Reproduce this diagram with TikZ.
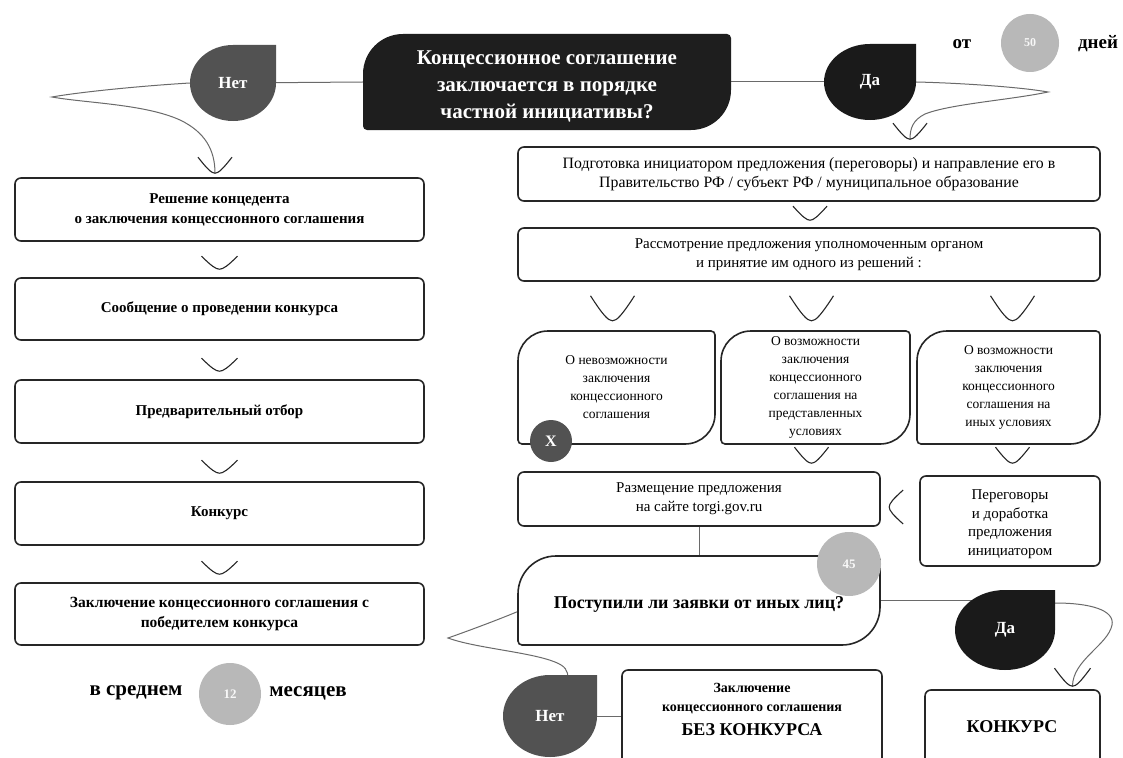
\documentclass[tikz,border=0pt]{standalone}
\usepackage{fontspec}
\setmainfont{Liberation Serif}
\usetikzlibrary{calc}
\pgfdeclarelayer{bg}
\pgfsetlayers{bg,main}
\definecolor{ink}{HTML}{1E1E1E}
\definecolor{dablack}{HTML}{1A1A1A}
\definecolor{netgray}{HTML}{525252}
\definecolor{lgray}{HTML}{B8B8B8}
\definecolor{connc}{HTML}{6A6A6A}
\definecolor{edgec}{HTML}{262626}
\newcommand\dropshape[5]{\fill[#5] (#1+#3,#2) -- (#1+#3,#2-#4) -- (#1,#2-#4) arc[start angle=270,end angle=0,x radius=#3,y radius=#4] -- cycle;}
\newcommand\leafshape[6]{\path[#6] (#1,#2+#5) arc[start angle=180,end angle=270,radius=#5] -- (#3-4,#2) arc[start angle=270,end angle=360,radius=4] -- (#3,#4-#5) arc[start angle=0,end angle=90,radius=#5] -- (#1+4,#4) arc[start angle=90,end angle=180,radius=4] -- cycle;}
\tikzset{
  chevline/.style={draw=edgec, line width=1.1pt},
  chev/.pic={\draw[chevline] (-1,-1) .. controls (-0.45,-0.25) and (-0.2,0) .. (0,0) .. controls (0.2,0) and (0.45,-0.25) .. (1,-1);},
  connline/.style={draw=connc, line width=1pt},
  box/.style={draw=edgec, line width=1.6pt, rounded corners=6pt, fill=white, inner sep=0pt, align=center},
  leafline/.style={draw=edgec, line width=1.6pt, fill=white},
  txt/.style={inner sep=0pt, align=center},
  lcol/.style={font=\fontsize{15}{20}\selectfont\bfseries},
  rcol/.style={font=\fontsize{15}{19}\selectfont},
  leaftxt/.style={txt, font=\fontsize{13.5}{18}\selectfont},
  droptxt/.style={txt, text=white, font=\fontsize{17}{20}\selectfont\bfseries},
  bigtxt/.style={txt, font=\fontsize{19}{22}\selectfont\bfseries},
  numcirc/.style={circle, fill=lgray, inner sep=0pt, text=white!90!lgray, font=\fontsize{12}{14}\selectfont\bfseries},
}
\begin{document}
\begin{tikzpicture}[x=1pt,y=-1pt]
\useasboundingbox (0,0) rectangle (1123,757);
\clip (0,0) rectangle (1123,757);

% ---------- top question ----------
\leafshape{363}{34}{731}{130}{40}{fill=ink}
\node[txt, minimum width=368, minimum height=96] (q) at (547,82) {};
\node[txt, text=white, font=\fontsize{21}{27}\selectfont\bfseries] (qtxt) at (547,86) {Концессионное соглашение\\заключается в порядке\\частной инициативы?};

\dropshape{233}{83}{43}{38}{netgray}
\node[droptxt, minimum width=86, minimum height=76] (neta) at (233,83) {Нет};
\dropshape{870}{82}{46}{38}{dablack}
\node[droptxt, minimum width=92, minimum height=76] (daa) at (870,82) {Да};

\node[bigtxt] (ot) at (962,44) {от};
\node[numcirc, minimum size=58] (c50) at (1030,43) {50};
\node[bigtxt] (dney) at (1098,44) {дней};

% ---------- left column ----------
\node[box, lcol, minimum width=409, minimum height=63] (b1) at (219.5,209.5) {Решение концедента\\о заключения концессионного соглашения};
\node[box, lcol, minimum width=409, minimum height=62] (b2) at (219.5,309) {Сообщение о проведении конкурса};
\node[box, lcol, minimum width=409, minimum height=63] (b3) at (219.5,411.5) {Предварительный отбор};
\node[box, lcol, minimum width=409, minimum height=63] (b4) at (219.5,513.5) {Конкурс};
\node[box, lcol, minimum width=409, minimum height=62, font=\fontsize{15.5}{20}\selectfont\bfseries] (b5) at (219.5,614) {Заключение концессионного соглашения с\\победителем конкурса};

\coordinate (chA) at ($(b1.north)+(-4.5,-4)$);
\pic[xscale=17,yscale=16] at (chA) {chev};
\pic[xscale=18,yscale=13] at ($(b2.north)+(0,-8)$) {chev};
\pic[xscale=18,yscale=13] at ($(b3.north)+(0,-8)$) {chev};
\pic[xscale=18,yscale=13] at ($(b4.north)+(0,-8)$) {chev};
\pic[xscale=18,yscale=13] at ($(b5.north)+(0,-8)$) {chev};

\node[bigtxt, font=\fontsize{21}{24}\selectfont\bfseries] (sred) at (136,693) {в среднем};
\node[numcirc, minimum size=62, font=\fontsize{13}{15}\selectfont\bfseries] (c12) at (230,694) {12};
\node[bigtxt, font=\fontsize{21}{24}\selectfont\bfseries] (mes) at (308,693) {месяцев};

% ---------- right column ----------
\node[box, rcol, minimum width=582, minimum height=54, font=\fontsize{15.8}{19}\selectfont] (r1) at (809,174) {Подготовка инициатором предложения (переговоры) и направление его в\\Правительство РФ / субъект РФ / муниципальное образование};
\node[box, rcol, minimum width=582, minimum height=53] (r2) at (809,254.5) {Рассмотрение предложения уполномоченным органом\\и принятие им одного из решений :};
\coordinate (chB) at ($(r1.north)+(101,-7)$);
\pic[xscale=17,yscale=16] at (chB) {chev};
\pic[xscale=17,yscale=14] at ($(r2.north)+(1,-7)$) {chev};

\leafshape{518}{331}{715}{444}{30}{leafline}
\node[leaftxt, minimum width=197, minimum height=113] (l1) at (616.5,387.5) {О невозможности\\заключения\\концессионного\\соглашения};
\leafshape{721}{331}{910}{444}{30}{leafline}
\node[leaftxt, minimum width=189, minimum height=113] (l2) at (815.5,387.5) {О возможности\\заключения\\концессионного\\соглашения на\\представленных\\условиях};
\leafshape{917}{331}{1100}{444}{30}{leafline}
\node[leaftxt, minimum width=183, minimum height=113] (l3) at (1008.5,387.5) {О возможности\\заключения\\концессионного\\соглашения на\\иных условиях};
\pic[xscale=22,yscale=25] at ($(l1.north)+(-4,-10)$) {chev};
\pic[xscale=22,yscale=25] at ($(l2.north)+(-4,-10)$) {chev};
\pic[xscale=22,yscale=25] at ($(l3.north)+(4,-10)$) {chev};
\node[circle, fill=netgray, minimum size=42, inner sep=0pt, text=white, font=\fontsize{16}{18}\selectfont\bfseries] (xc) at (551,441) {X};

\node[box, rcol, minimum width=362, minimum height=54] (r3) at (699,499) {Размещение предложения\\на сайте torgi.gov.ru};
\node[box, minimum width=180, minimum height=90] (r4) at (1010,521) {};
\node[txt, font=\fontsize{15}{18.5}\selectfont] (r4txt) at (1010,524) {Переговоры\\и доработка\\предложения\\инициатором};
\pic[xscale=17,yscale=16] at ($(l2.south)+(-4,19)$) {chev};
\pic[xscale=17,yscale=16] at ($(l3.south)+(4,19)$) {chev};
\coordinate (chD) at ($(r4.west)+(-30,-14)$);
\pic[rotate=-90,xscale=17,yscale=14] at (chD) {chev};

\leafshape{518}{556}{880}{645}{38}{leafline}
\node[txt, minimum width=362, minimum height=89] (p) at (699,600.5) {};
\node[txt, font=\fontsize{18}{22}\selectfont\bfseries] (ptxt) at (699,604) {Поступили ли заявки от иных лиц?};
\node[numcirc, minimum size=64, font=\fontsize{13}{15}\selectfont\bfseries] (c45) at (849,564) {45};

\dropshape{1005}{630}{50}{40}{dablack}
\node[droptxt, minimum width=100, minimum height=80] (dab) at (1005,630) {Да};
\dropshape{550}{716}{47}{41}{netgray}
\node[droptxt, minimum width=94, minimum height=82] (netb) at (550,716) {Нет};

\node[box, minimum width=260, minimum height=105] (z) at (752,722.5) {};
\node[txt, font=\fontsize{14}{19}\selectfont\bfseries, anchor=north] (ztxt) at (752,683) {Заключение\\концессионного соглашения\\[5pt]{\fontsize{18}{22}\selectfont БЕЗ КОНКУРСА}};
\node[box, minimum width=175, minimum height=85] (k) at (1012.5,732.5) {};
\node[txt, font=\fontsize{18}{22}\selectfont\bfseries] (ktxt) at (1012,727) {КОНКУРС};
\coordinate (chC) at ($(k.north)+(60,-3)$);
\pic[xscale=18,yscale=18] at (chC) {chev};

% ---------- connectors ----------
\begin{pgfonlayer}{bg}
\fill[white] (0,0) rectangle (1123,757);
\draw[connline] (q.west) -- (neta.center);
\draw[connline] (q.east) -- (daa.center);
\coordinate (hpA) at (52,97);
\draw[connline] (neta.west) .. controls (140,86) and (80,92) .. (hpA) .. controls (85,103) and (145,104) .. (180,120) .. controls (205,132) and (chA|-0,150) .. (chA);
\coordinate (hpB) at (1048,92);
\draw[connline] (daa.east) .. controls (960,83) and (1020,87) .. (hpB) .. controls (1010,100) and (950,104) .. (925,114) .. controls (913,120) and (chB|-0,128) .. (chB);
\draw[connline] (r3.south) -- (p.north);
\draw[connline] (p.east) -- (p.east -| dab.center);
\draw[connline] ($(dab.east)+(0,-27)$) .. controls (1090,603) and (1115,610) .. (1112,625) .. controls (1108,645) and (chC|-0,660) .. (chC);
\coordinate (hpC) at (448,638);
\draw[connline] ($(p.west)+(0,11)$) .. controls (495,621) and (465,632) .. (hpC) .. controls (475,648) and (530,652) .. (555,662) .. controls (565,666) and (568,670) .. ($(netb.north)+(18,4)$);
\draw[connline] (netb.center) -- (netb.center -| z.west);
\end{pgfonlayer}
\end{tikzpicture}
\end{document}
